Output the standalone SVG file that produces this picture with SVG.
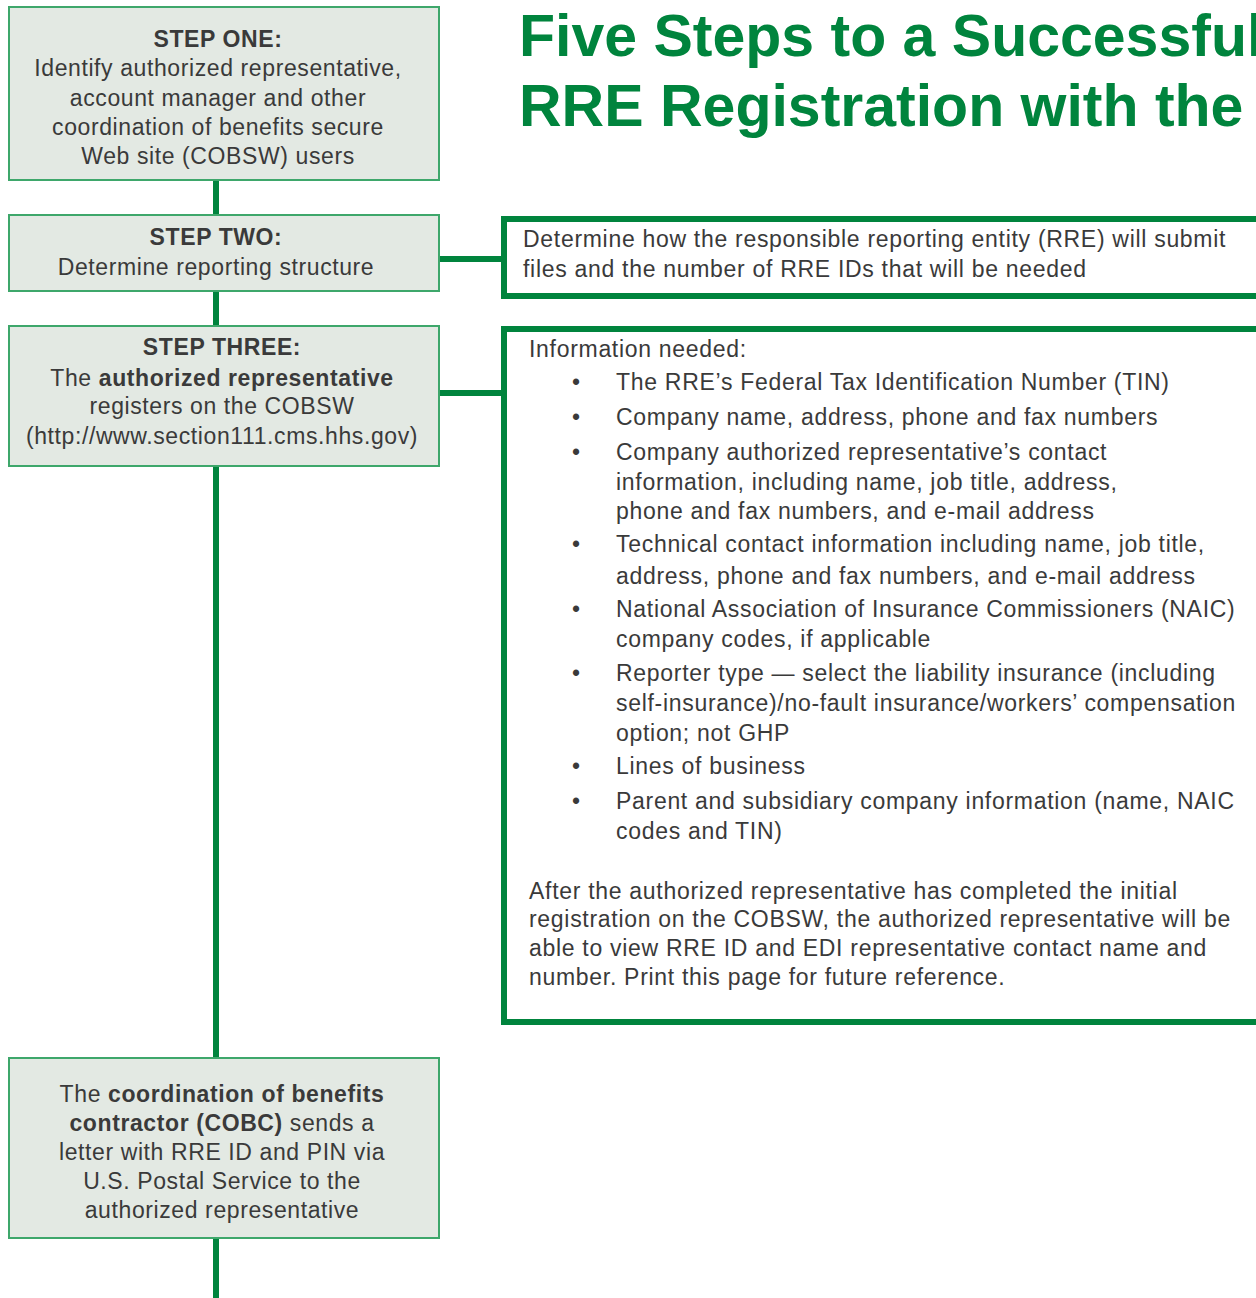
<svg xmlns="http://www.w3.org/2000/svg" width="1256" height="1298" viewBox="0 0 1256 1298">
  <style>
    .step { fill: #e3e9e3; stroke: #3ea76b; stroke-width: 2; }
    .panel { fill: #ffffff; stroke: #00843d; stroke-width: 6; }
    .link { stroke: #00843d; stroke-width: 6; fill: none; }
    .t { font-family: "Liberation Sans", Arial, sans-serif; font-size: 23px; fill: #3a3a3a; letter-spacing: 0.6px; }
    .p { letter-spacing: 0.7px; }
    .c { text-anchor: middle; }
    .b { font-weight: bold; }
    .title { font-family: "Liberation Sans", Arial, sans-serif; font-size: 59px; font-weight: bold; fill: #00843d; }
  </style>

  <rect width="1256" height="1298" fill="#ffffff"/>

  <!-- connectors -->
  <g id="connectors">
    <line class="link" x1="216" y1="180" x2="216" y2="1298"/>
    <line class="link" x1="439" y1="259" x2="504" y2="259"/>
    <line class="link" x1="439" y1="393" x2="504" y2="393"/>
  </g>

  <!-- title -->
  <g id="title">
    <text class="title" x="519" y="56">Five Steps to a Successful</text>
    <text class="title" x="519" y="126">RRE Registration with the</text>
  </g>

  <g id="step-one">
    <rect class="step" x="9" y="7" width="430" height="173"/>
    <text class="t c b" x="218" y="47">STEP ONE:</text>
    <text class="t c" x="218" y="76">Identify authorized representative,</text>
    <text class="t c" x="218" y="106">account manager and other</text>
    <text class="t c" x="218" y="135">coordination of benefits secure</text>
    <text class="t c" x="218" y="164">Web site (COBSW) users</text>
  </g>

  <g id="step-two">
    <rect class="step" x="9" y="215" width="430" height="76"/>
    <text class="t c b" x="216" y="245">STEP TWO:</text>
    <text class="t c" x="216" y="275">Determine reporting structure</text>
  </g>

  <g id="step-two-detail">
    <rect class="panel" x="504" y="219" width="780" height="77"/>
    <text class="t p" x="523" y="247">Determine how the responsible reporting entity (RRE) will submit</text>
    <text class="t p" x="523" y="277">files and the number of RRE IDs that will be needed</text>
  </g>

  <g id="step-three">
    <rect class="step" x="9" y="326" width="430" height="140"/>
    <text class="t c b" x="222" y="355">STEP THREE:</text>
    <text class="t c" x="222" y="386">The <tspan class="b">authorized representative</tspan></text>
    <text class="t c" x="222" y="414">registers on the COBSW</text>
    <text class="t c" x="222" y="444">(http://www.section111.cms.hhs.gov)</text>
  </g>

  <g id="step-three-detail">
    <rect class="panel" x="504" y="329" width="780" height="693"/>
    <text class="t p" x="529" y="357">Information needed:</text>
    <g class="t">
      <text x="572" y="390">•</text>
      <text x="572" y="425">•</text>
      <text x="572" y="460">•</text>
      <text x="572" y="552">•</text>
      <text x="572" y="617">•</text>
      <text x="572" y="681">•</text>
      <text x="572" y="774">•</text>
      <text x="572" y="809">•</text>
    </g>
    <text class="t p" x="616" y="390">The RRE’s Federal Tax Identification Number (TIN)</text>
    <text class="t p" x="616" y="425">Company name, address, phone and fax numbers</text>
    <text class="t p" x="616" y="460">Company authorized representative’s contact</text>
    <text class="t p" x="616" y="490">information, including name, job title, address,</text>
    <text class="t p" x="616" y="519">phone and fax numbers, and e-mail address</text>
    <text class="t p" x="616" y="552">Technical contact information including name, job title,</text>
    <text class="t p" x="616" y="584">address, phone and fax numbers, and e-mail address</text>
    <text class="t p" x="616" y="617">National Association of Insurance Commissioners (NAIC)</text>
    <text class="t p" x="616" y="647">company codes, if applicable</text>
    <text class="t p" x="616" y="681">Reporter type — select the liability insurance (including</text>
    <text class="t p" x="616" y="711">self-insurance)/no-fault insurance/workers’ compensation</text>
    <text class="t p" x="616" y="741">option; not GHP</text>
    <text class="t p" x="616" y="774">Lines of business</text>
    <text class="t p" x="616" y="809">Parent and subsidiary company information (name, NAIC</text>
    <text class="t p" x="616" y="839">codes and TIN)</text>
    <text class="t p" x="529" y="899">After the authorized representative has completed the initial</text>
    <text class="t p" x="529" y="927">registration on the COBSW, the authorized representative will be</text>
    <text class="t p" x="529" y="956">able to view RRE ID and EDI representative contact name and</text>
    <text class="t p" x="529" y="985">number. Print this page for future reference.</text>
  </g>

  <g id="cobc-letter">
    <rect class="step" x="9" y="1058" width="430" height="180"/>
    <text class="t c" x="222" y="1102">The <tspan class="b">coordination of benefits</tspan></text>
    <text class="t c" x="222" y="1131"><tspan class="b">contractor (COBC)</tspan> sends a</text>
    <text class="t c" x="222" y="1160">letter with RRE ID and PIN via</text>
    <text class="t c" x="222" y="1189">U.S. Postal Service to the</text>
    <text class="t c" x="222" y="1218">authorized representative</text>
  </g>
</svg>
